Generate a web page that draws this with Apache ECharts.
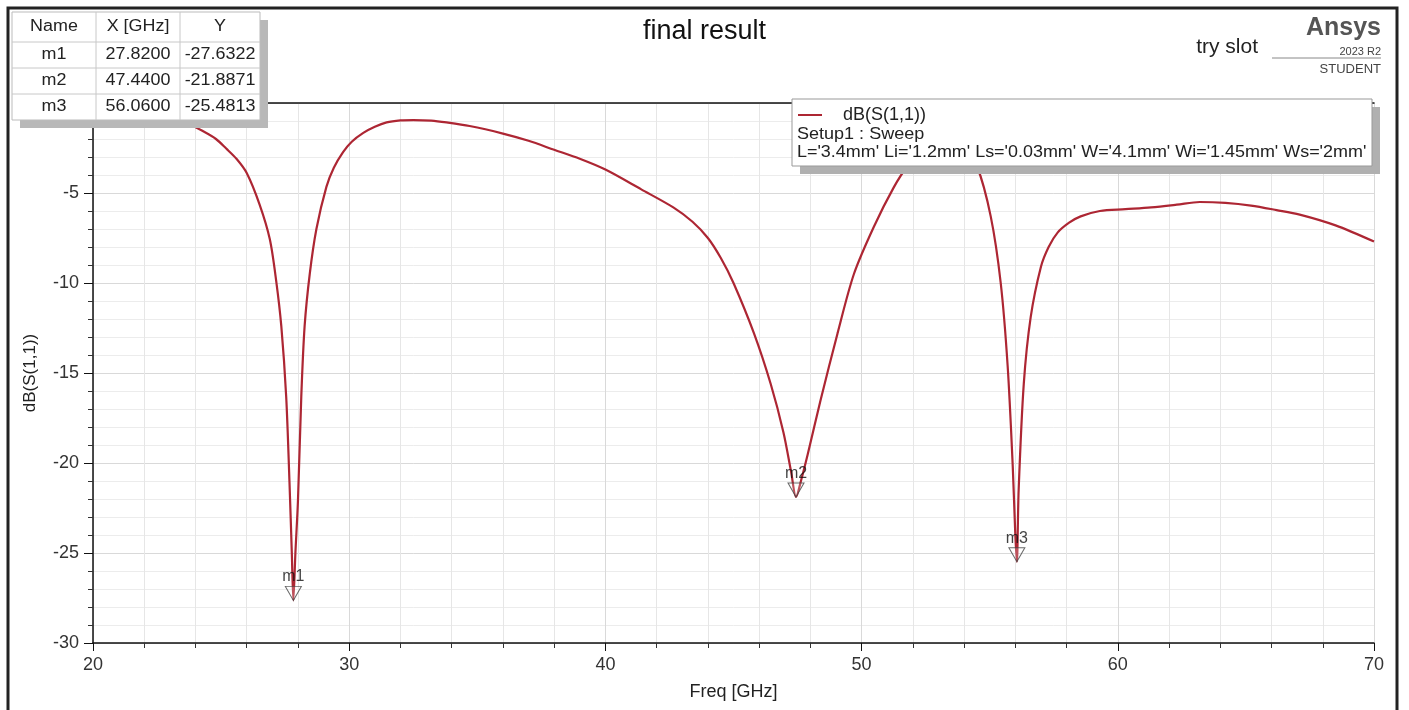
<!DOCTYPE html>
<html>
<head lang="en">
    <meta charset="UTF-8">
    <title>final result</title>
    <script src="https://cdn.jsdelivr.net/npm/echarts@6/dist/echarts.min.js"></script>
    <style>
        html, body { margin: 0; padding: 0; background: #fff; }
        #s11_chart { width: 1409px; height: 710px; }
    </style>
</head>
<body>

<div id="s11_chart"></div>

<script>
    // dB(S(1,1))
    var freqs = [20, 21, 22, 23, 23.7, 24.3, 24.8, 25.2, 25.6, 26.0, 26.5, 26.9, 27.15, 27.35, 27.54, 27.67, 27.76,
        27.82, 27.9, 28.0, 28.13, 28.26, 28.46, 28.72, 29.11, 29.4, 29.76, 30.1, 30.55, 31.0, 31.46, 32.0, 32.5, 33.2,
        33.8, 34.7, 36, 37, 38, 39, 40, 41.4, 42.65, 43.4, 44, 44.5, 45, 45.8, 46.45, 46.95, 47.25, 47.44, 47.65,
        47.9, 48.4, 49.06, 49.7, 50.47, 51.25, 51.8, 52.5, 53.3, 54.0, 54.5, 55.04, 55.43, 55.7, 55.9, 56.0, 56.06,
        56.13, 56.33, 56.6, 57.0, 57.3, 57.65, 58.1, 58.55, 59.3, 60.3, 61.3, 62.3, 63.2, 64.2, 65.2, 66.2, 67.1,
        68.5, 70];
    var s11 = [-0.45, -0.55, -0.68, -0.89, -1.15, -1.57, -2.0, -2.53, -3.1, -3.89, -5.63, -7.56, -9.88, -12.4,
        -16.3, -21.1, -25.0, -27.63, -25.0, -22.1, -16.3, -12.4, -9.5, -7.0, -4.66, -3.6, -2.73, -2.15, -1.66, -1.32,
        -1.08, -0.97, -0.95, -0.98, -1.08, -1.28, -1.7, -2.1, -2.6, -3.1, -3.7, -4.8, -5.8, -6.6, -7.5, -8.6, -10.0,
        -12.8, -15.6, -18.3, -20.5, -21.89, -20.9, -19.5, -16.5, -12.8, -9.5, -6.9, -4.7, -3.5, -2.5, -2.1, -2.6,
        -3.5, -6.3, -10, -14.6, -20.2, -24.0, -25.48, -21.5, -15.6, -11.9, -9.1, -8.0, -7.2, -6.65, -6.3, -6.0,
        -5.9, -5.8, -5.65, -5.5, -5.55, -5.7, -5.95, -6.2, -6.8, -7.7];

    // markers m1..m3
    var markerNames = ['m1', 'm2', 'm3'];
    var markerX = [27.82, 47.44, 56.06];
    var markerY = [-27.6322, -21.8871, -25.4813];

    var tableHeads = ['Name', 'X [GHz]', 'Y'];
    var legendLines = ['Setup1 : Sweep', "L='3.4mm' Li='1.2mm' Ls='0.03mm' W='4.1mm' Wi='1.45mm' Ws='2mm'"];

    var FONT = '"Liberation Sans", Arial, sans-serif';

    var lineData = freqs.map(function (f, i) { return [f, s11[i]]; });
    var markerData = markerNames.map(function (n, i) { return { name: n, value: [markerX[i], markerY[i]] }; });

    // text a bit wider than the font, like the screenshot
    function wideText(txt, x, y, align, size, sx, z) {
        return {
            type: 'text', x: x, y: y, scaleX: sx, z: z,
            style: { text: txt, x: 0, y: 0, align: align, verticalAlign: 'middle', font: size + 'px ' + FONT, fill: '#222' }
        };
    }

    // marker table drawn on top of the plot
    var colEdges = [12, 96, 180, 260];
    var rowEdges = [12, 42, 68, 94, 120];
    var table = [
        { type: 'rect', shape: { x: 20, y: 20, width: 248, height: 108 }, style: { fill: '#b8b8b8' }, z: 100 },
        { type: 'rect', shape: { x: 12, y: 12, width: 248, height: 108 }, style: { fill: '#fff', stroke: '#bbb', lineWidth: 1 }, z: 101 }
    ];
    for (var r = 1; r < rowEdges.length - 1; r++) {
        table.push({ type: 'line', shape: { x1: 12, y1: rowEdges[r], x2: 260, y2: rowEdges[r] }, style: { stroke: '#c8c8c8', lineWidth: 1 }, z: 102 });
    }
    for (var c = 1; c < colEdges.length - 1; c++) {
        table.push({ type: 'line', shape: { x1: colEdges[c], y1: 12, x2: colEdges[c], y2: 120 }, style: { stroke: '#c8c8c8', lineWidth: 1 }, z: 102 });
    }
    function cell(txt, col, row) {
        table.push(wideText(txt, (colEdges[col] + colEdges[col + 1]) / 2, (rowEdges[row] + rowEdges[row + 1]) / 2, 'center', 16, 1.12, 103));
    }
    tableHeads.forEach(function (h, c) { cell(h, c, 0); });
    markerNames.forEach(function (n, i) {
        cell(n, 0, i + 1);
        cell(markerX[i].toFixed(4), 1, i + 1);
        cell(markerY[i].toFixed(4), 2, i + 1);
    });

    var chart = echarts.init(document.getElementById('s11_chart'));

    var option = {
        backgroundColor: '#fff',
        animation: false,
        textStyle: { fontFamily: FONT },
        title: {
            text: 'final result',
            left: 'center',
            top: 13,
            textStyle: { fontSize: 27, fontWeight: 'normal', color: '#111', fontFamily: FONT }
        },
        legend: {
            data: ['dB(S(1,1))'],
            left: 798,
            top: 106,
            padding: 0,
            z: 120,
            icon: 'path://M0 0H24V2H0Z',
            itemWidth: 24,
            itemHeight: 2,
            textStyle: { fontSize: 18, color: '#222', padding: [0, 0, 0, 16], fontFamily: FONT }
        },
        grid: { left: 93, right: 35, top: 103, bottom: 67 },
        xAxis: [{
            type: 'value',
            min: 20,
            max: 70,
            interval: 10,
            name: 'Freq [GHz]',
            nameLocation: 'middle',
            nameGap: 40,
            nameTextStyle: { fontSize: 18, color: '#222' },
            axisLine: { onZero: false, lineStyle: { color: '#111', width: 1.5 } },
            axisTick: { length: 8, lineStyle: { color: '#111' } },
            minorTick: { show: true, splitNumber: 5, length: 5, lineStyle: { color: '#333' } },
            axisLabel: { fontSize: 18, color: '#333', margin: 13 },
            splitLine: { lineStyle: { color: '#d9d9d9' } },
            minorSplitLine: { show: true, lineStyle: { color: '#e6e6e6' } }
        }, {
            type: 'value',
            position: 'top',
            min: 20,
            max: 70,
            axisLine: { onZero: false, lineStyle: { color: '#111', width: 1.5 } },
            axisTick: { show: false },
            axisLabel: { show: false },
            splitLine: { show: false }
        }],
        yAxis: {
            type: 'value',
            min: -30,
            max: 0,
            interval: 5,
            name: 'dB(S(1,1))',
            nameLocation: 'middle',
            nameGap: 54,
            nameTextStyle: { fontSize: 17, color: '#222' },
            axisLine: { show: true, onZero: false, lineStyle: { color: '#111', width: 1.5 } },
            axisTick: { length: 9, lineStyle: { color: '#111' } },
            minorTick: { show: true, splitNumber: 5, length: 5, lineStyle: { color: '#333' } },
            axisLabel: { fontSize: 18, color: '#333', margin: 14 },
            splitLine: { lineStyle: { color: '#d9d9d9' } },
            minorSplitLine: { show: true, lineStyle: { color: '#ececec' } }
        },
        series: [{
            name: 'dB(S(1,1))',
            type: 'line',
            data: lineData,
            showSymbol: false,
            smooth: 0.3,
            lineStyle: { color: '#ad2633', width: 2.2 },
            itemStyle: { color: '#ad2633' },
            z: 3
        }, {
            name: 'markers',
            type: 'scatter',
            data: markerData,
            symbol: 'triangle',
            symbolRotate: 180,
            symbolSize: [16, 14],
            symbolOffset: [0, -7],
            itemStyle: { color: 'rgba(255,255,255,0.25)', borderColor: '#444', borderWidth: 1 },
            label: {
                show: true,
                position: 'top',
                distance: 1,
                formatter: '{b}',
                fontSize: 16,
                color: '#111'
            },
            z: 5
        }],
        graphic: table.concat([
            // outer frame
            { type: 'rect', shape: { x: 8, y: 8, width: 1389, height: 720 }, style: { fill: 'none', stroke: '#222', lineWidth: 3 }, z: 90 },
            // legend box
            { type: 'rect', shape: { x: 800, y: 107, width: 580, height: 67 }, style: { fill: '#b0b0b0' }, z: 110 },
            { type: 'rect', shape: { x: 792, y: 99, width: 580, height: 67 }, style: { fill: '#fff', stroke: '#999', lineWidth: 1 }, z: 111 },
            wideText(legendLines[0], 797, 134, 'left', 17, 1.06, 112),
            wideText(legendLines[1], 797, 152, 'left', 17, 1.055, 112),
            // product stamp, top right
            { type: 'text', z: 95, style: { text: 'Ansys', x: 1381, y: 28, align: 'right', verticalAlign: 'middle', font: 'bold 25px ' + FONT, fill: '#555' } },
            { type: 'text', z: 95, style: { text: 'try slot', x: 1258, y: 47, align: 'right', verticalAlign: 'middle', font: '21px ' + FONT, fill: '#222' } },
            { type: 'line', z: 95, shape: { x1: 1272, y1: 58, x2: 1381, y2: 58 }, style: { stroke: '#888', lineWidth: 1 } },
            { type: 'text', z: 95, style: { text: '2023 R2', x: 1381, y: 52, align: 'right', verticalAlign: 'middle', font: '11px ' + FONT, fill: '#444' } },
            { type: 'text', z: 95, style: { text: 'STUDENT', x: 1381, y: 69, align: 'right', verticalAlign: 'middle', font: '13px ' + FONT, fill: '#444' } }
        ])
    };

    chart.setOption(option);
</script>
</body>
</html>
